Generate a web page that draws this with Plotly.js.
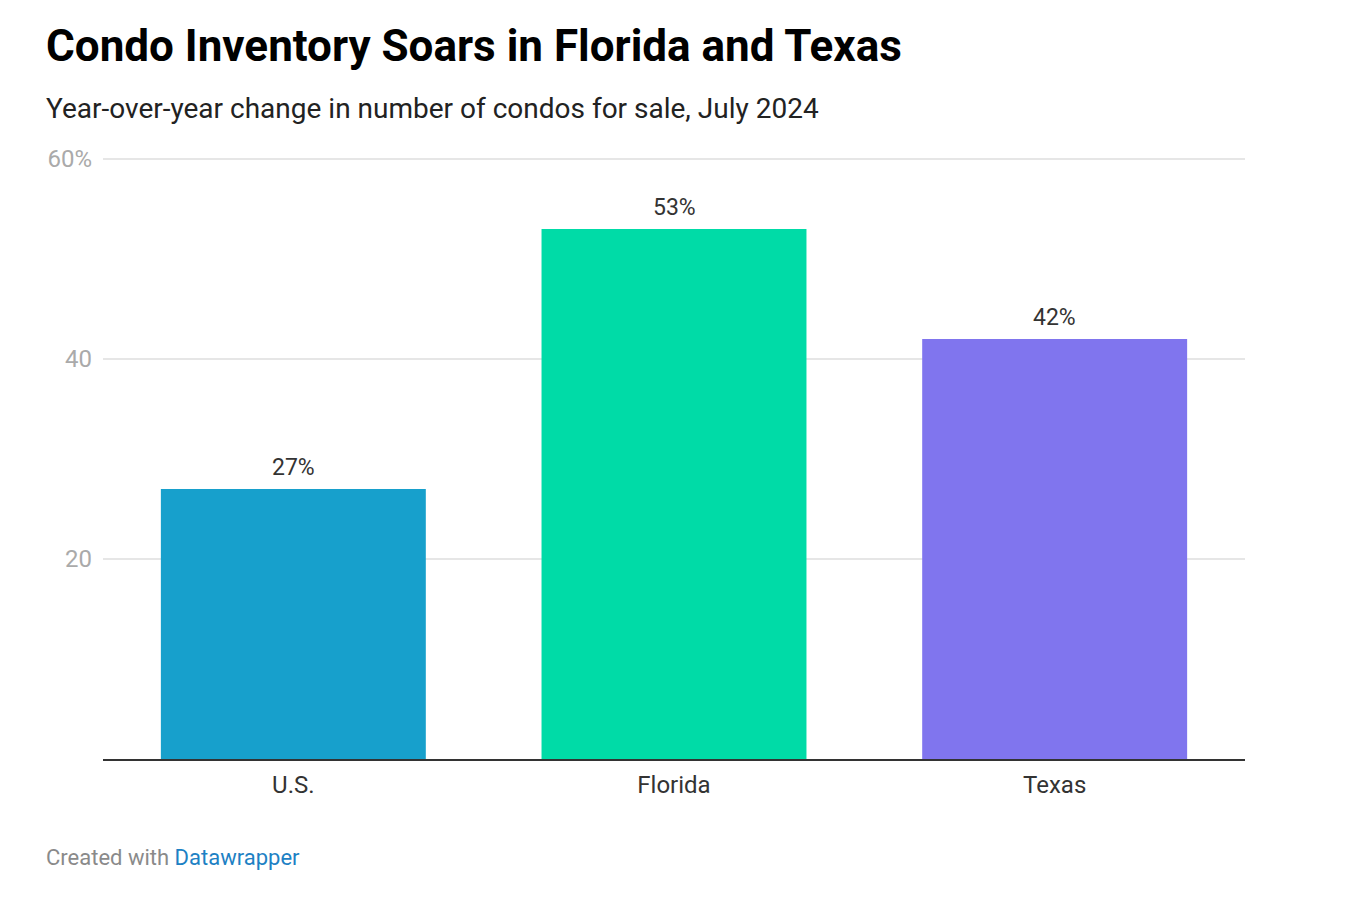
<!DOCTYPE html>
<html>
<head>
<meta charset="utf-8">
<script src="https://cdn.plot.ly/plotly-3.0.1.min.js"></script>
<style>
  html, body { margin: 0; padding: 0; background: #fff; }
  #chart { width: 1350px; height: 906px; }
</style>
</head>
<body>
<div id="chart"></div>
<script>
const categories = ["U.S.", "Florida", "Texas"];
const values = [27, 53, 42];
const barColors = ["#17a0cc", "#00dba7", "#8075ee"];
const tickValues = [20, 40, 60];
const tickLabels = ["20", "40", "60%"];

const FONT = "Roboto, 'Open Sans', sans-serif";

const trace = {
  type: "bar",
  x: categories,
  y: values,
  marker: { color: barColors, line: { width: 0 } },
  hoverinfo: "skip",
  cliponaxis: false
};

const labelAnnotations = categories.map((c, i) => ({
  x: c, y: values[i], xref: "x", yref: "y",
  text: values[i] + "%",
  showarrow: false, yanchor: "bottom", yshift: 6,
  font: { family: FONT, size: 23, color: "#333333" }
}));

const layout = {
  width: 1350, height: 906,
  margin: { l: 103, r: 105, t: 157, b: 147 },
  paper_bgcolor: "#ffffff", plot_bgcolor: "#ffffff",
  bargap: 0.304,
  showlegend: false,
  font: { family: FONT },
  xaxis: {
    type: "category",
    tickfont: { family: FONT, size: 24, color: "#333333" },
    ticks: "", showgrid: false, zeroline: false,
    showline: true, linecolor: "#333333", linewidth: 2,
    ticklabelstandoff: 3
  },
  yaxis: {
    range: [0, 60.2],
    tickvals: tickValues, ticktext: tickLabels,
    tickfont: { family: FONT, size: 24, color: "#aaaaaa" },
    showgrid: true, gridcolor: "#e6e6e6", gridwidth: 2,
    zeroline: false, showline: false, ticks: "",
    ticklabelstandoff: 10
  },
  annotations: [
    {
      xref: "paper", yref: "paper", x: -0.0517, y: 1.1847,
      xanchor: "left", yanchor: "middle", showarrow: false,
      text: "<b>Condo Inventory Soars in Florida and Texas</b>",
      font: { family: FONT, size: 44, color: "#000000" }
    },
    {
      xref: "paper", yref: "paper", x: -0.0517, y: 1.080,
      xanchor: "left", yanchor: "middle", showarrow: false,
      text: "Year-over-year change in number of condos for sale, July 2024",
      font: { family: FONT, size: 28, color: "#222222" }
    },
    {
      xref: "paper", yref: "paper", x: -0.0517, y: -0.163,
      xanchor: "left", yanchor: "middle", showarrow: false,
      text: "<span style='color:#8a8a8a'>Created with </span><span style='color:#1d81c4'>Datawrapper</span>",
      font: { family: FONT, size: 22, color: "#8a8a8a" }
    }
  ].concat(labelAnnotations)
};

Plotly.newPlot("chart", [trace], layout, { displayModeBar: false, staticPlot: true });
</script>
</body>
</html>
